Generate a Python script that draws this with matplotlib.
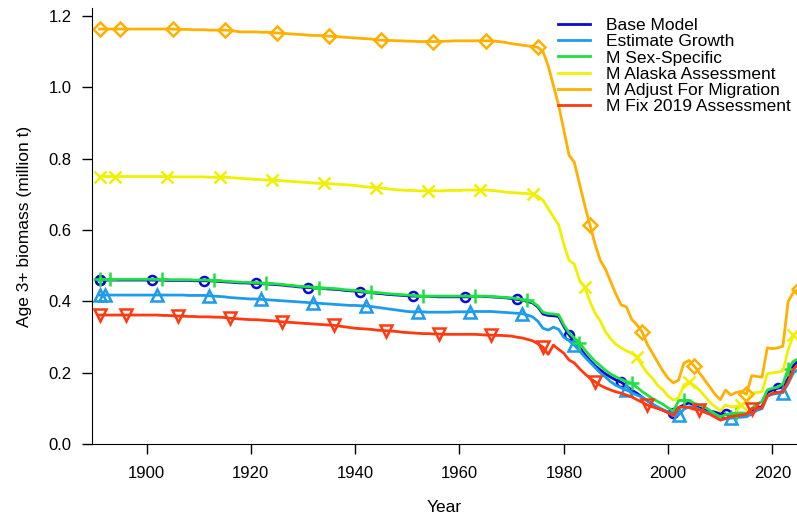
import numpy as np
import matplotlib
matplotlib.use('Agg')
import matplotlib.pyplot as plt

plt.rcParams['font.family'] = ['Liberation Sans', 'DejaVu Sans']

years = np.arange(1891, 2026)

base_model = [
    .460, .460, .460, .460, .460, .460, .460, .460, .460, .460,
    .460, .460, .460, .459, .459, .459, .459, .459, .458, .458,
    .458, .458, .457, .456, .455, .454, .453, .452, .452, .451,
    .451, .450, .449, .448, .447, .446, .444, .443, .441, .440,
    .439, .438, .437, .436, .435, .434, .433, .431, .430, .429,
    .427, .426, .425, .423, .422, .420, .419, .418, .417, .416,
    .415, .415, .414, .414, .414, .413, .413, .413, .413, .413,
    .413, .413, .414, .414, .414, .413, .412, .411, .410,
    .408, .406, .404, .400, .396, .385, .365, .361, .360, .358,
    .330, .306, .290, .272, .252, .235, .220, .208, .197, .188,
    .180, .174, .163, .152, .143, .132, .122, .112, .102, .095,
    .090, .087, .103, .110, .116, .110, .102, .097, .093, .090,
    .085, .085, .077, .082, .084, .085, .095, .103, .105, .145,
    .152, .157, .160, .185, .220, .235]

estimate_growth = [
    .418, .418, .418, .418, .418, .418, .418, .418, .418, .418,
    .418, .418, .418, .418, .418, .418, .418, .417, .417, .417,
    .417, .416, .415, .414, .413, .411, .410, .409, .408, .407,
    .407, .406, .405, .404, .403, .402, .401, .400, .399, .398,
    .397, .396, .395, .394, .393, .392, .391, .390, .389, .389,
    .388, .388, .386, .384, .382, .380, .378, .376, .374, .372,
    .371, .371, .371, .370, .370, .370, .370, .370, .371, .371,
    .371, .371, .372, .372, .372, .372, .371, .370, .369,
    .368, .367, .366, .362, .357, .345, .325, .320, .328, .322,
    .300, .290, .278, .262, .245, .230, .215, .200, .188, .175,
    .165, .158, .152, .145, .138, .132, .122, .112, .105, .097,
    .090, .085, .082, .098, .105, .105, .098, .092, .087, .078,
    .068, .072, .073, .075, .076, .077, .085, .095, .100, .135,
    .140, .143, .145, .170, .200, .210]

sex_specific = [
    .462, .462, .462, .462, .462, .462, .462, .462, .462, .462,
    .462, .462, .462, .461, .461, .461, .461, .461, .460, .460,
    .460, .460, .459, .458, .457, .456, .455, .454, .454, .453,
    .453, .452, .451, .450, .449, .448, .446, .445, .443, .442,
    .441, .440, .439, .438, .437, .436, .435, .433, .432, .431,
    .429, .428, .427, .425, .424, .422, .421, .420, .419, .418,
    .417, .416, .415, .415, .415, .415, .415, .415, .415, .415,
    .415, .415, .415, .415, .415, .414, .413, .412, .411,
    .410, .408, .406, .404, .398, .388, .370, .366, .365, .363,
    .335, .312, .298, .285, .265, .248, .232, .220, .207, .197,
    .189, .182, .176, .171, .160, .148, .138, .128, .120, .112,
    .102, .093, .122, .124, .122, .115, .110, .105, .095, .085,
    .077, .083, .086, .087, .088, .087, .100, .113, .120, .152,
    .157, .160, .170, .210, .232, .240]

alaska = [
    .750, .750, .750, .750, .750, .750, .750, .750, .750, .750,
    .750, .750, .750, .750, .749, .749, .749, .749, .749, .749,
    .749, .748, .748, .748, .748, .747, .746, .745, .744, .743,
    .742, .741, .740, .740, .739, .738, .737, .736, .735, .734,
    .733, .732, .731, .731, .730, .729, .728, .727, .726, .725,
    .723, .721, .720, .719, .718, .716, .714, .713, .712, .711,
    .711, .710, .710, .710, .710, .710, .710, .711, .711, .711,
    .712, .712, .712, .712, .712, .711, .710, .708, .706,
    .705, .704, .703, .702, .700, .695, .684, .660, .637, .615,
    .560, .515, .505, .460, .440, .400, .367, .345, .315, .295,
    .280, .270, .262, .255, .245, .220, .200, .185, .165, .152,
    .135, .124, .130, .165, .175, .165, .152, .135, .118, .105,
    .094, .110, .105, .106, .110, .118, .143, .145, .147, .198,
    .200, .202, .205, .265, .305, .320]

migration = [
    1.163, 1.163, 1.163, 1.163, 1.163, 1.163, 1.163, 1.163, 1.163, 1.163,
    1.163, 1.163, 1.163, 1.163, 1.163, 1.162, 1.162, 1.162, 1.161, 1.161,
    1.161, 1.160, 1.160, 1.160, 1.160, 1.159, 1.157, 1.155, 1.155, 1.155,
    1.155, 1.154, 1.154, 1.153, 1.152, 1.151, 1.150, 1.149, 1.148, 1.147,
    1.146, 1.145, 1.145, 1.144, 1.143, 1.142, 1.141, 1.140, 1.139, 1.138,
    1.137, 1.136, 1.135, 1.133, 1.132, 1.131, 1.131, 1.130, 1.130, 1.129,
    1.129, 1.128, 1.128, 1.128, 1.128, 1.128, 1.129, 1.129, 1.130, 1.130,
    1.130, 1.130, 1.130, 1.130, 1.130, 1.130, 1.129, 1.127, 1.125,
    1.122, 1.120, 1.118, 1.116, 1.114, 1.112, 1.100, 1.060, 1.005, 0.950,
    .880, .810, .790, .730, .670, .615, .560, .515, .490, .455,
    .420, .390, .385, .350, .335, .315, .280, .255, .230, .205,
    .185, .172, .180, .227, .235, .219, .200, .180, .160, .140,
    .125, .152, .138, .145, .148, .140, .192, .190, .188, .270,
    .268, .270, .275, .400, .425, .435]

fix_2019 = [
    .362, .362, .362, .362, .362, .362, .362, .362, .362, .362,
    .362, .362, .361, .361, .360, .359, .359, .358, .358, .357,
    .357, .357, .356, .356, .355, .353, .352, .351, .350, .349,
    .349, .348, .347, .346, .345, .343, .342, .341, .340, .339,
    .338, .337, .336, .335, .334, .333, .331, .329, .327, .325,
    .324, .323, .322, .320, .319, .318, .317, .316, .314, .313,
    .312, .311, .310, .310, .309, .309, .308, .308, .308, .308,
    .308, .308, .308, .307, .306, .306, .305, .305, .304,
    .303, .300, .298, .294, .290, .282, .272, .252, .278, .266,
    .255, .236, .228, .212, .198, .185, .175, .165, .158, .152,
    .147, .143, .138, .133, .125, .118, .110, .105, .100, .096,
    .088, .080, .103, .105, .103, .098, .096, .090, .084, .076,
    .068, .073, .077, .080, .082, .084, .100, .101, .102, .135,
    .143, .145, .148, .175, .210, .225]

labels = ['Base Model', 'Estimate Growth', 'M Sex-Specific',
          'M Alaska Assessment', 'M Adjust For Migration', 'M Fix 2019 Assessment']
series = [base_model, estimate_growth, sex_specific, alaska, migration, fix_2019]
colors = ['#0A0AD8', '#1E9BEB', '#1EE040', '#F0F000', '#FFB000', '#FF3A10']
markers = ['o', '^', '+', 'x', 'D', 'v']
msizes = [6.5, 8, 10, 8, 7, 8]

fig = plt.figure(figsize=(7.97, 5.17), dpi=100)
ax = fig.add_axes([0.1151, 0.1406, 0.8849, 0.8433])

for i, (vals, lab, col, mk, ms) in enumerate(zip(series, labels, colors, markers, msizes)):
    # first year always marked, then every 10th year staggered by series
    idx = [0] + list(range(i, len(years), 10))
    ax.plot(years, vals, color=col, lw=2, label=lab)
    ax.plot(years[idx], np.array(vals)[idx], ls='none', marker=mk, ms=ms,
            mfc='none', mec=col, mew=1.8)

ax.set_xlim(1889.5, 2024.7)
ax.set_ylim(0, 1.221)
ax.set_xticks([1900, 1920, 1940, 1960, 1980, 2000, 2020])
ax.set_yticks([0.0, 0.2, 0.4, 0.6, 0.8, 1.0, 1.2])
ax.set_yticklabels(['0.0', '0.2', '0.4', '0.6', '0.8', '1.0', '1.2'])
ax.spines['top'].set_visible(False)
ax.spines['right'].set_visible(False)
ax.tick_params(axis='both', length=7.5, width=1, labelsize=12, direction='out')
ax.tick_params(axis='y', pad=7)
ax.tick_params(axis='x', pad=8)
ax.set_xlabel('Year', fontsize=12.5, labelpad=14)
ax.set_ylabel('Age 3+ biomass (million t)', fontsize=12.5, labelpad=12)

ax.legend(loc='upper left', bbox_to_anchor=(558 / 797, 1 - 18 / 517),
          bbox_transform=fig.transFigure, frameon=False, fontsize=12.5,
          handlelength=1.85, handletextpad=0.92, labelspacing=0.06, borderpad=0,
          borderaxespad=0)

fig.savefig('out.png', dpi=100)
